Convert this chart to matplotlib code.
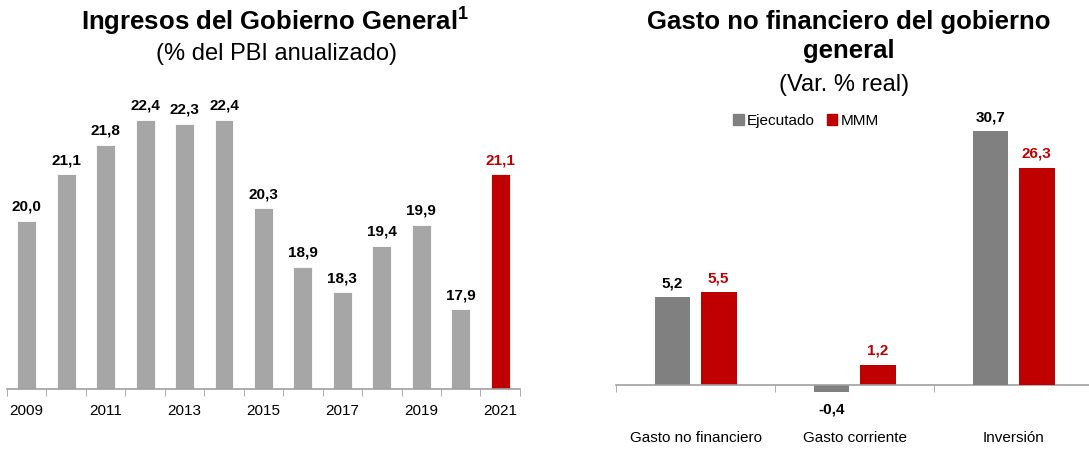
import matplotlib
matplotlib.use("Agg")
import matplotlib.pyplot as plt
from matplotlib.patches import Patch

plt.rcParams["font.family"] = ["Liberation Sans", "DejaVu Sans"]
plt.rcParams["mathtext.fontset"] = "custom"
plt.rcParams["mathtext.bf"] = "Liberation Sans:bold"
plt.rcParams["mathtext.rm"] = "Liberation Sans"

# --- data
years = list(range(2009, 2022))
ingresos = [20.0, 21.1, 21.8, 22.4, 22.3, 22.4, 20.3, 18.9, 18.3, 19.4, 19.9, 17.9, 21.1]

categorias = ["Gasto no financiero", "Gasto corriente", "Inversión"]
ejecutado = [5.2, -0.4, 30.7]
mmm = [5.5, 1.2, 26.3]
# the source draws "Inversión" on its own (compressed) scale
eje_secundario = [False, False, True]

GRAY_L = "#A6A6A6"
GRAY_D = "#808080"
RED = "#C00000"
SPINE = "#A0A0A0"


def fmt(v):
    return f"{v:.1f}".replace(".", ",")


def label(ax, x, v, color="black"):
    if v >= 0:
        ax.annotate(fmt(v), (x, v), xytext=(0, 5), textcoords="offset points",
                    ha="center", va="bottom", fontsize=11, fontweight="bold", color=color)
    else:
        ax.annotate(fmt(v), (x, v), xytext=(0, -8), textcoords="offset points",
                    ha="center", va="top", fontsize=11, fontweight="bold", color=color)


fig = plt.figure(figsize=(10.89, 4.5), dpi=100)

# --- left: ingresos
ax1 = fig.add_axes([0.0064, 0.1356, 0.471, 0.636])
x = list(range(len(years)))
colors = [GRAY_L] * (len(years) - 1) + [RED]
ax1.bar(x, [v - 16.0 for v in ingresos], bottom=16.0, width=0.48, color=colors,
        edgecolor="white", linewidth=0.6)
for i, v in enumerate(ingresos):
    label(ax1, i, v, RED if i == len(years) - 1 else "black")
ax1.set_xlim(-0.5, len(years) - 0.5)
ax1.set_ylim(16.0, 22.8)
ax1.set_xticks(x[::2])
ax1.set_xticklabels([str(y) for y in years[::2]], fontsize=11)
ax1.set_xticks([i - 0.5 for i in range(len(years) + 1)], minor=True)
ax1.tick_params(axis="x", which="major", length=0, pad=11)
ax1.tick_params(axis="x", which="minor", length=5, color=SPINE, direction="out")
ax1.set_yticks([])
for s in ["top", "right", "left"]:
    ax1.spines[s].set_visible(False)
ax1.spines["bottom"].set_color(SPINE)
ax1.spines["bottom"].set_linewidth(1.2)

fig.text(0.253, 0.955, r"Ingresos del Gobierno General$^{\mathbf{1}}$", ha="center",
         va="center", fontsize=18.5, fontweight="bold")
fig.text(0.2535, 0.88, "(% del PBI anualizado)", ha="center", va="center", fontsize=17)

# --- right: gasto no financiero
ax2 = fig.add_axes([0.5657, 0.1298, 0.438, 0.621])
ax3 = ax2.twinx()
off, w = 0.145, 0.226
for i in range(len(categorias)):
    ax = ax3 if eje_secundario[i] else ax2
    ax.bar(i - off, ejecutado[i], width=w, color=GRAY_D)
    ax.bar(i + off, mmm[i], width=w, color=RED)
    label(ax, i - off, ejecutado[i])
    label(ax, i + off, mmm[i], RED)
ax2.set_xlim(-0.5, 2.5)
ax2.set_ylim(-0.39, 16.2)
ax3.set_ylim(-0.8, 33)
ax2.spines["bottom"].set_position(("data", 0))
ax2.spines["bottom"].set_color(SPINE)
ax2.spines["bottom"].set_linewidth(1.2)
for s in ["top", "right", "left"]:
    ax2.spines[s].set_visible(False)
for s in ax3.spines.values():
    s.set_visible(False)
ax2.set_yticks([])
ax3.set_yticks([])
ax2.set_xticks(range(len(categorias)))
ax2.set_xticklabels(categorias, fontsize=11)
ax2.set_xticks([-0.5, 0.5, 1.5], minor=True)
ax2.tick_params(axis="x", which="major", length=0, pad=33)
ax2.tick_params(axis="x", which="minor", length=5, color=SPINE, direction="out")

handles = [Patch(color=GRAY_D, label="Ejecutado"), Patch(color=RED, label="MMM")]
fig.legend(handles=handles, loc="center", bbox_to_anchor=(0.74, 0.731), ncol=2,
           frameon=False, fontsize=11, handlelength=0.7, handleheight=0.7,
           handletextpad=0.2, columnspacing=0.8)

fig.text(0.779, 0.951, "Gasto no financiero del gobierno", ha="center",
         va="center", fontsize=18.5, fontweight="bold")
fig.text(0.779, 0.886, "general", ha="center", va="center", fontsize=18.5,
         fontweight="bold")
fig.text(0.7755, 0.812, "(Var. % real)", ha="center", va="center", fontsize=17)

fig.savefig("out.png", dpi=100)
